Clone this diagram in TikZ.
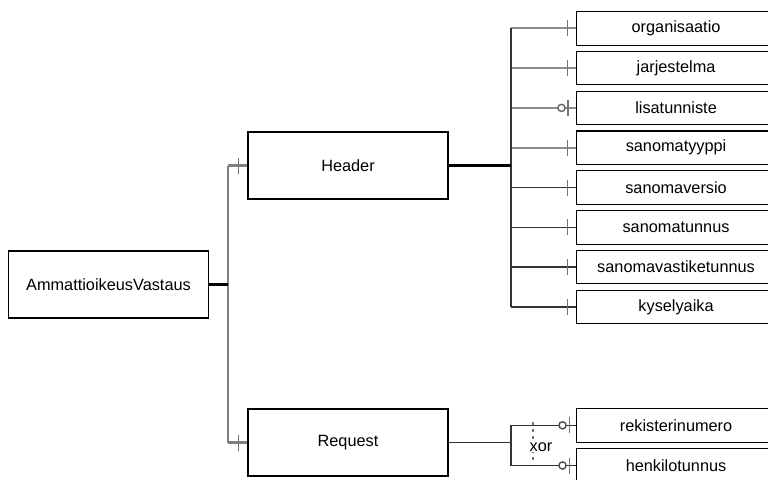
\documentclass[tikz,border=0pt]{standalone}
\usepackage{fontspec}
\setmainfont{Liberation Sans}
\begin{document}
\begin{tikzpicture}[x=1pt,y=-1pt,
  ent/.style={draw=black, line width=1.1pt, fill=white, minimum width=200pt, minimum height=67pt, inner sep=0pt, font=\fontsize{16.3}{19}\selectfont},
  attr/.style={ent, minimum height=33.5pt, anchor=west},
  thickc/.style={line width=2.2pt, black},
  trunk/.style={line width=2.2pt, black!50},
  lite/.style={line width=1.8pt, black!45},
  dark/.style={line width=1.3pt, black!80},
  tickm/.style={line width=1.8pt, black!55},
  opt/.style={line width=1.4pt, black!70, fill=white},
  xorline/.style={line width=1.4pt, black!55, dash pattern=on 3pt off 4pt}
]
\useasboundingbox (0,0) rectangle (768,479);

% entities
\node[ent] (av) at (108.5,284.5) {AmmattioikeusVastaus};
\node[ent] (header) at (348,165.5) {Header};
\node[ent] (request) at (348,442.5) {Request};

% header attributes
\node[attr] (org) at (575.5,28.3) {organisaatio};
\node[attr] (jar) at (575.5,68.1) {jarjestelma};
\node[attr] (lis) at (575.5,107.9) {lisatunniste};
\node[attr] (typ) at (575.5,147.7) {sanomatyyppi};
\node[attr] (ver) at (575.5,187.5) {sanomaversio};
\node[attr] (tun) at (575.5,227.3) {sanomatunnus};
\node[attr] (vas) at (575.5,267.1) {sanomavastiketunnus};
\node[attr] (kys) at (575.5,306.9) {kyselyaika};

% request attributes
\node[attr] (rek) at (575.5,425.3) {rekisterinumero};
\node[attr] (hen) at (575.5,465.5) {henkilotunnus};

% left trunk
\coordinate (lt) at (228,284.5);
\draw[trunk] (lt |- header.west) -- (lt |- request.west);
\draw[trunk] (lt |- header.west) -- (header.west);
\draw[trunk] (lt |- request.west) -- (request.west);
\draw[thickc] (av.east) -- (lt);
\draw[tickm] ([xshift=-9pt]header.west) ++(0,-8) -- ++(0,16);
\draw[tickm] ([xshift=-9pt]request.west) ++(0,-8) -- ++(0,16);

% header branch
\coordinate (hb) at (511,165.5);
\foreach \n in {org,jar,lis,typ} {
  \draw[lite] (hb |- \n.west) -- (\n.west);
}
\foreach \n in {ver,tun,vas,kys} {
  \draw[dark] (hb |- \n.west) -- (\n.west);
}
\draw[dark] (hb |- org.west) -- (hb |- kys.west);
\draw[thickc] (header.east) -- (hb);
\foreach \n in {org,jar,typ,ver,tun,vas,kys} {
  \draw[tickm] ([xshift=-8pt]\n.west) ++(0,-8) -- ++(0,16);
}
\draw[tickm] ([xshift=-7.5pt]lis.west) ++(0,-8) -- ++(0,16);
\draw[opt, draw=black!60] ([xshift=-14pt]lis.west) circle (3.6pt);

% request branch
\coordinate (rb) at (511,442.5);
\draw[dark] (request.east) -- (rb);
\draw[dark] (rb |- rek.west) -- (rb |- hen.west);
\draw[dark] (rb |- rek.west) -- (rek.west);
\draw[dark] (rb |- hen.west) -- (hen.west);
\draw[tickm] ([xshift=-6pt]rek.west) ++(0,-8) -- ++(0,16);
\draw[tickm] ([xshift=-6pt]hen.west) ++(0,-8) -- ++(0,16);
\draw[opt] ([xshift=-13pt]rek.west) circle (3.6pt);
\draw[opt] ([xshift=-13pt]hen.west) circle (3.6pt);
\draw[xorline] (533,422) -- (533,464);
\node[font=\fontsize{16.3}{19}\selectfont, fill=white, inner sep=0.5pt] (xor) at (541,447) {xor};
\end{tikzpicture}
\end{document}
